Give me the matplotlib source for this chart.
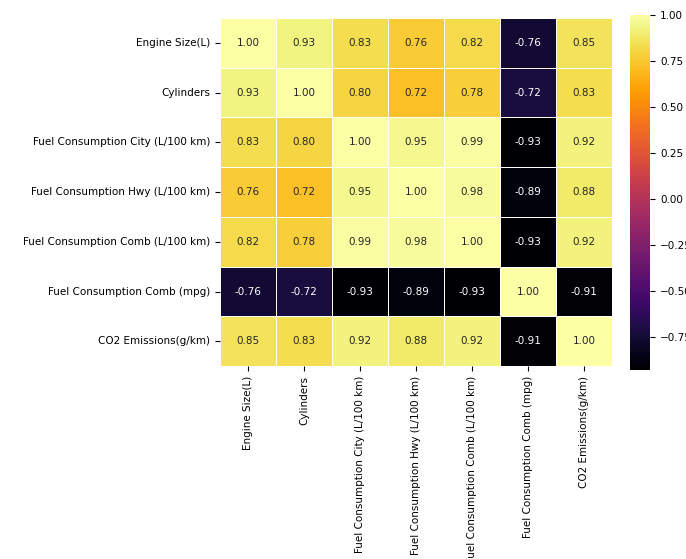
import numpy as np
import pandas as pd
import matplotlib
matplotlib.use("Agg")
import matplotlib.pyplot as plt
import seaborn as sns

labels = [
    "Engine Size(L)",
    "Cylinders",
    "Fuel Consumption City (L/100 km)",
    "Fuel Consumption Hwy (L/100 km)",
    "Fuel Consumption Comb (L/100 km)",
    "Fuel Consumption Comb (mpg)",
    "CO2 Emissions(g/km)",
]

row_engine = [1.00, 0.93, 0.83, 0.76, 0.82, -0.76, 0.85]
row_cyl = [0.93, 1.00, 0.80, 0.72, 0.78, -0.72, 0.83]
row_city = [0.83, 0.80, 1.00, 0.95, 0.99, -0.93, 0.92]
row_hwy = [0.76, 0.72, 0.95, 1.00, 0.98, -0.89, 0.88]
row_comb = [0.82, 0.78, 0.99, 0.98, 1.00, -0.93, 0.92]
row_mpg = [-0.76, -0.72, -0.93, -0.89, -0.93, 1.00, -0.91]
row_co2 = [0.85, 0.83, 0.92, 0.88, 0.92, -0.91, 1.00]

corr = pd.DataFrame(
    [row_engine, row_cyl, row_city, row_hwy, row_comb, row_mpg, row_co2],
    index=labels, columns=labels,
)

fig = plt.figure(figsize=(6.86, 5.59), dpi=100)
ax = fig.add_axes([0.321, 0.345, 0.571, 0.623])
cax = fig.add_axes([0.918, 0.338, 0.030, 0.636])

sns.heatmap(
    corr, ax=ax, cbar_ax=cax, cmap="inferno", annot=True, fmt=".2f",
    linewidths=0.6, linecolor="white", annot_kws={"size": 7.5},
)

ax.tick_params(axis="both", labelsize=7.5)
ax.set_xticklabels(labels, rotation=90, fontsize=7.5)
ax.set_yticklabels(labels, rotation=0, fontsize=7.5)
cax.tick_params(labelsize=7.5)

fig.savefig("out.png", dpi=100)
